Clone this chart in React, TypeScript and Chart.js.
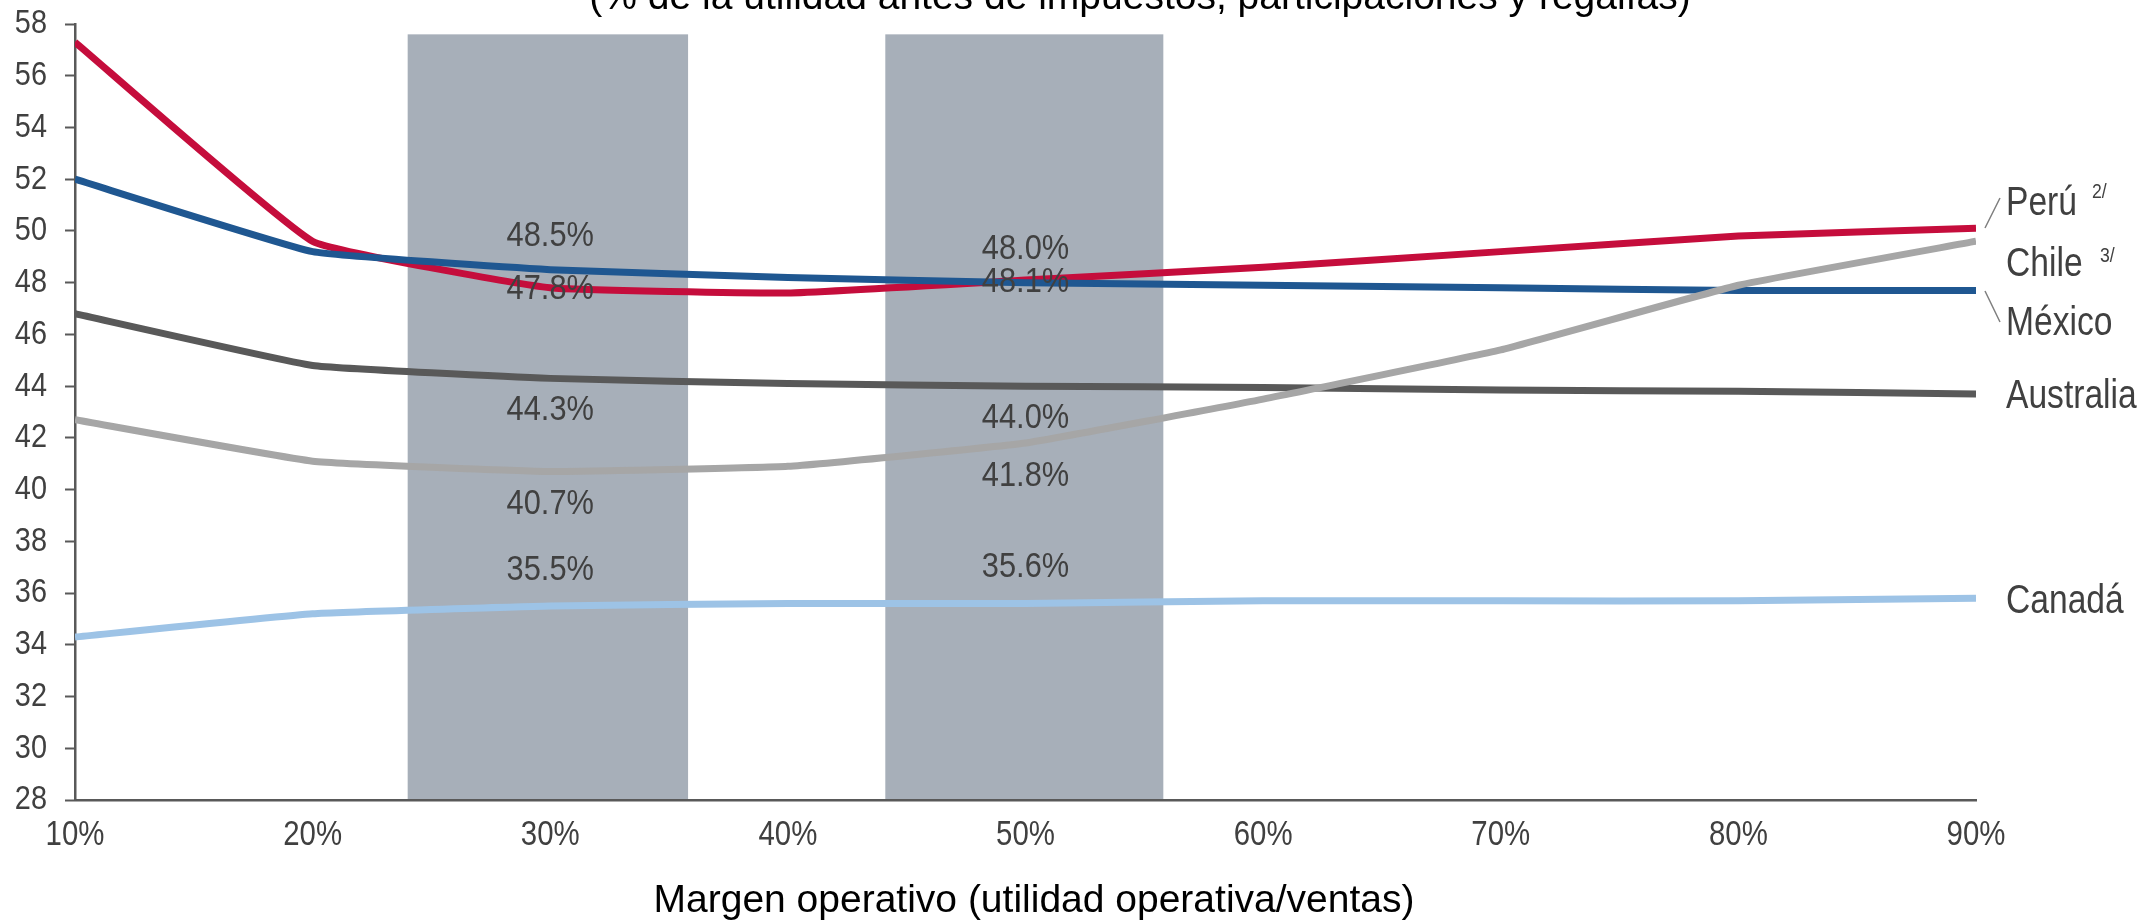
import { useEffect, useRef } from "react";
import { Chart, registerables } from "chart.js";

Chart.register(...registerables);

// ---- Data ----
const margins = [10, 20, 30, 40, 50, 60, 70, 80, 90];
const peru = [57.3, 49.6, 47.8, 47.6, 48.1, 48.6, 49.2, 49.8, 50.1];
const mexico = [52.0, 49.2, 48.5, 48.2, 48.0, 47.9, 47.8, 47.7, 47.7];
const australia = [46.8, 44.8, 44.3, 44.1, 44.0, 43.95, 43.85, 43.8, 43.7];
const chile = [42.7, 41.1, 40.7, 40.9, 41.8, 43.5, 45.4, 47.9, 49.6];
const canada = [34.3, 35.2, 35.5, 35.6, 35.6, 35.7, 35.7, 35.7, 35.8];

const seriesNames = ["Perú", "México", "Australia", "Chile", "Canadá"];

const labelMargins = [30, 50];
const peruLabels = ["47.8%", "48.1%"];
const mexicoLabels = ["48.5%", "48.0%"];
const australiaLabels = ["44.3%", "44.0%"];
const chileLabels = ["40.7%", "41.8%"];
const canadaLabels = ["35.5%", "35.6%"];

const shadedRanges = [
  [24, 35.8],
  [44.1, 55.8],
];
const shadeTop = 57.6;

const yMin = 28;
const yMax = 58;
const yStep = 2;

const titleText = "(% de la utilidad antes de impuestos, participaciones y regalías)";
const xAxisTitle = "Margen operativo (utilidad operativa/ventas)";

// ---- Styles ----
const colors = {
  peru: "#C50D3C",
  mexico: "#1F5791",
  australia: "#595959",
  chile: "#A6A6A6",
  canada: "#9DC3E6",
  shade: "#A7AFB9",
  axis: "#595959",
  text: "#404040",
};

const SANS = "'Liberation Sans', Arial, sans-serif";

function drawText(
  ctx: CanvasRenderingContext2D,
  text: string,
  x: number,
  y: number,
  size: number,
  sx: number,
  align: CanvasTextAlign,
  baseline: CanvasTextBaseline,
  color: string
) {
  ctx.save();
  ctx.font = `${size}px ${SANS}`;
  ctx.textAlign = align;
  ctx.textBaseline = baseline;
  ctx.fillStyle = color;
  ctx.translate(x, y);
  ctx.scale(sx, 1);
  ctx.fillText(text, 0, 0);
  ctx.restore();
}

const shadePlugin = {
  id: "shadeBands",
  beforeDatasetsDraw(chart: any) {
    const { ctx, chartArea, scales } = chart;
    const x = scales.x;
    const y = scales.y;
    ctx.save();
    ctx.fillStyle = colors.shade;
    const top = y.getPixelForValue(shadeTop);
    for (const [a, b] of shadedRanges) {
      const x0 = x.getPixelForValue(a);
      const x1 = x.getPixelForValue(b);
      ctx.fillRect(x0, top, x1 - x0, chartArea.bottom - 1 - top);
    }
    ctx.restore();
  },
};

const labelsPlugin = {
  id: "textLabels",
  afterDatasetsDraw(chart: any) {
    const { ctx, chartArea, scales } = chart;
    const x = scales.x;
    const y = scales.y;

    // axis tick labels (condensed rendering)
    for (const t of y.ticks) {
      drawText(ctx, String(t.value), chartArea.left - 28, y.getPixelForValue(t.value), 34, 0.85, "right", "middle", colors.text);
    }
    for (const t of x.ticks) {
      drawText(ctx, `${t.value}%`, x.getPixelForValue(t.value), chartArea.bottom + 45, 35, 0.84, "center", "alphabetic", colors.text);
    }

    // axis title
    drawText(ctx, xAxisTitle, 1034, chartArea.bottom + 112, 39, 1, "center", "alphabetic", "#000000");

    // data labels
    const groups: [number[], string[], number][] = [
      [mexico, mexicoLabels, -33],
      [peru, peruLabels, 2],
      [australia, australiaLabels, 32],
      [chile, chileLabels, 33],
      [canada, canadaLabels, -36],
    ];
    for (const [vals, labs, off] of groups) {
      labelMargins.forEach((m, i) => {
        const idx = margins.indexOf(m);
        const px = x.getPixelForValue(m);
        const py = y.getPixelForValue(vals[idx]) + off;
        drawText(ctx, labs[i], px, py, 35, 0.88, "center", "middle", colors.text);
      });
    }

    // right-side series labels
    const lx = chartArea.right + 30;
    const rs = 0.84;
    drawText(ctx, seriesNames[0], lx, 215, 40, rs, "left", "alphabetic", colors.text);
    drawText(ctx, seriesNames[3], lx, 276, 40, rs, "left", "alphabetic", colors.text);
    drawText(ctx, seriesNames[1], lx, 335, 40, rs, "left", "alphabetic", colors.text);
    drawText(ctx, seriesNames[2], lx, 408, 40, rs, "left", "alphabetic", colors.text);
    drawText(ctx, seriesNames[4], lx, 613, 40, rs, "left", "alphabetic", colors.text);
    drawText(ctx, "2/", lx + 86, 198, 21, 0.84, "left", "alphabetic", colors.text);
    drawText(ctx, "3/", lx + 94, 262, 21, 0.84, "left", "alphabetic", colors.text);

    // leader lines
    ctx.save();
    ctx.strokeStyle = "#7F7F7F";
    ctx.lineWidth = 1.5;
    ctx.beginPath();
    ctx.moveTo(chartArea.right + 9, 228);
    ctx.lineTo(chartArea.right + 24, 198);
    ctx.moveTo(chartArea.right + 9, 291);
    ctx.lineTo(chartArea.right + 24, 322);
    ctx.stroke();
    ctx.restore();

    // clipped chart title at the top
    drawText(ctx, titleText, 1140, 9, 39, 1, "center", "alphabetic", "#000000");
  },
};

export default function App() {
  const canvasRef = useRef<HTMLCanvasElement | null>(null);

  useEffect(() => {
    document.body.style.margin = "0";
    const canvas = canvasRef.current;
    if (!canvas) return;

    const mk = (label: string, data: number[], color: string) => ({
      label,
      data: margins.map((m, i) => ({ x: m, y: data[i] })),
      borderColor: color,
      backgroundColor: color,
      borderWidth: 7,
      pointRadius: 0,
      tension: 0.1,
      borderCapStyle: "butt" as const,
      fill: false,
    });

    const chart = new Chart(canvas, {
      type: "line",
      data: {
        datasets: [
          mk(seriesNames[4], canada, colors.canada),
          mk(seriesNames[3], chile, colors.chile),
          mk(seriesNames[2], australia, colors.australia),
          mk(seriesNames[1], mexico, colors.mexico),
          mk(seriesNames[0], peru, colors.peru),
        ],
      },
      options: {
        responsive: false,
        animation: false,
        devicePixelRatio: 1,
        layout: { padding: { top: 24, right: 175, bottom: 0, left: 0 } },
        plugins: {
          legend: { display: false },
          tooltip: { enabled: false },
        },
        scales: {
          x: {
            type: "linear",
            min: 10,
            max: 90,
            ticks: { stepSize: 10, display: false },
            grid: { display: false },
            border: { display: true, color: colors.axis, width: 2.5 },
            afterFit: (scale: any) => {
              scale.height = 120;
            },
          },
          y: {
            min: yMin,
            max: yMax,
            ticks: { stepSize: yStep, display: false },
            grid: {
              display: true,
              drawOnChartArea: false,
              drawTicks: true,
              tickLength: 10,
              tickColor: colors.axis,
              tickWidth: 2,
            },
            border: { display: true, color: colors.axis, width: 2.5 },
            afterFit: (scale: any) => {
              scale.width = 75;
            },
          },
        },
      },
      plugins: [shadePlugin, labelsPlugin],
    });

    return () => chart.destroy();
  }, []);

  return (
    <div style={{ position: "absolute", left: 0, top: 0 }}>
      <canvas
        ref={canvasRef}
        width={2151}
        height={920}
        style={{ display: "block", width: 2151, height: 920 }}
      />
    </div>
  );
}
